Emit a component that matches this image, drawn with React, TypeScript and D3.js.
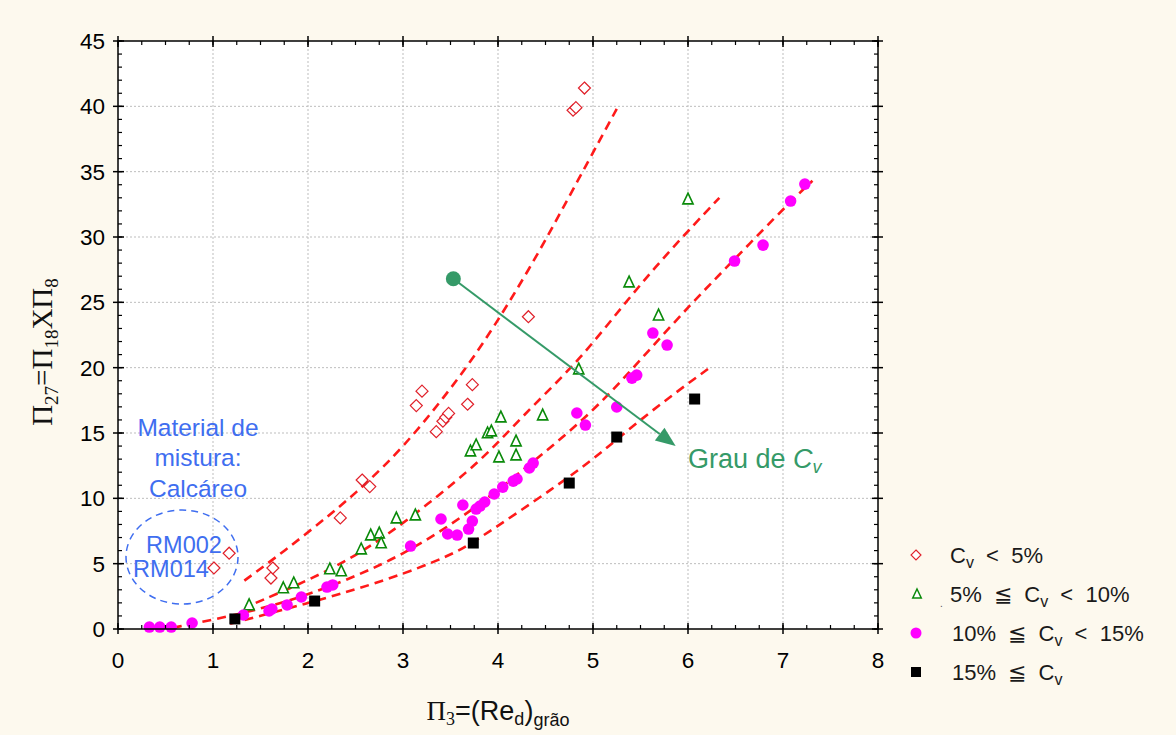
import React from 'react';
import * as d3 from 'd3';

const W = 1176;
const H = 735;

const xTicks = [0, 1, 2, 3, 4, 5, 6, 7, 8];
const yTicks = [0, 5, 10, 15, 20, 25, 30, 35, 40, 45];

// Cv < 5%
const cvLt5: [number, number][] = [
  [1.01, 4.67], [1.17, 5.8], [1.61, 3.9], [1.63, 4.67], [2.34, 8.5], [2.57, 11.4], [2.65, 10.9],
  [3.14, 17.1], [3.2, 18.2], [3.35, 15.1], [3.42, 15.9], [3.45, 16.2], [3.48, 16.5], [3.68, 17.2],
  [3.73, 18.7], [4.32, 23.9], [4.79, 39.7], [4.82, 39.9], [4.91, 41.4],
];
// 5% <= Cv < 10%
const cv5to10: [number, number][] = [
  [1.38, 1.84], [1.74, 3.14], [1.85, 3.52], [2.23, 4.59], [2.35, 4.44], [2.56, 6.12], [2.66, 7.19],
  [2.75, 7.34], [2.77, 6.58], [2.93, 8.49], [3.13, 8.72], [3.71, 13.62], [3.77, 14.08], [3.89, 15.0],
  [3.93, 15.15], [4.03, 16.22], [4.01, 13.16], [4.19, 14.38], [4.19, 13.31], [4.47, 16.37],
  [4.85, 19.89], [5.38, 26.55], [5.69, 24.02], [6.0, 32.9],
];
// 10% <= Cv < 15%
const cv10to15: [number, number][] = [
  [0.33, 0.15], [0.44, 0.15], [0.56, 0.15], [0.78, 0.46], [1.32, 1.07], [1.59, 1.38], [1.62, 1.53],
  [1.78, 1.84], [1.93, 2.45], [2.2, 3.21], [2.26, 3.37], [3.08, 6.35], [3.4, 8.42], [3.47, 7.27],
  [3.57, 7.19], [3.63, 9.49], [3.69, 7.65], [3.73, 8.26], [3.77, 9.18], [3.81, 9.41], [3.86, 9.72],
  [3.96, 10.33], [4.05, 10.86], [4.16, 11.32], [4.2, 11.48], [4.33, 12.32], [4.37, 12.7],
  [4.83, 16.53], [4.92, 15.61], [5.25, 16.99], [5.41, 19.2], [5.46, 19.43], [5.63, 22.65],
  [5.78, 21.73], [6.49, 28.16], [6.79, 29.38], [7.08, 32.75], [7.23, 34.05],
];
// 15% <= Cv
const cvGe15: [number, number][] = [
  [1.23, 0.77], [2.07, 2.14], [3.74, 6.58], [4.75, 11.17], [5.25, 14.69], [6.07, 17.6],
];

// fitted trend curves
const fitLt5: [number, number][] = [
  [1.33, 3.7], [1.74, 5.9], [2.26, 8.9], [2.61, 11.1], [3.0, 13.9], [3.42, 17.6], [3.83, 21.6],
  [4.38, 28.1], [4.86, 34.6], [5.25, 39.8],
];
const fit5to10: [number, number][] = [
  [1.45, 2.0], [2.0, 3.7], [2.56, 5.8], [3.1, 8.6], [3.71, 12.2], [4.02, 14.4], [4.34, 16.9],
  [4.85, 20.5], [5.34, 25.0], [5.81, 29.0], [6.33, 33.0],
];
const fit10to15: [number, number][] = [
  [0.58, 0.1], [1.0, 0.7], [1.6, 1.7], [2.2, 3.1], [3.0, 5.6], [3.7, 8.9], [4.34, 12.6],
  [5.0, 16.6], [5.5, 20.6], [6.02, 24.8], [6.49, 28.3], [7.09, 32.8], [7.31, 34.3],
];
const fitGe15: [number, number][] = [
  [1.18, 0.4], [2.07, 2.1], [2.86, 3.8], [3.49, 5.6], [3.74, 6.6], [4.65, 11.1], [5.0, 13.0],
  [5.25, 14.5], [5.6, 16.6], [6.02, 18.9], [6.23, 20.0],
];

const arrowFrom: [number, number] = [3.53, 26.8];
const arrowTo: [number, number] = [5.87, 14.0];

const legendItems = [
  { pre: '', post: '  <  5%' },
  { pre: '5%  \u2266  ', post: '  <  10%' },
  { pre: '10%  \u2266  ', post: '  <  15%' },
  { pre: '15%  \u2266  ', post: '' },
];

const SANS = '"Liberation Sans", Arial, sans-serif';
const SERIF = '"Liberation Serif", "Times New Roman", serif';
const GREEN = '#359a68';
const BLUE = '#3f6ef0';

export default function App() {
  const x = d3.scaleLinear().domain([0, 8]).range([118, 878]);
  const y = d3.scaleLinear().domain([0, 45]).range([629, 41]);
  const [x0, x1] = x.range();
  const [y0, y1] = y.range();
  const line = d3
    .line<[number, number]>()
    .x((d) => x(d[0]))
    .y((d) => y(d[1]))
    .curve(d3.curveBasis);

  const xMinor = d3.range(0, 8.0001, 0.25);
  const yMinor = d3.range(0, 45.0001, 1);

  const diamond = (s: number) => `M0,${-s}L${s},0L0,${s}L${-s},0Z`;
  const tri = (s: number) => `M0,${-s}L${s * 0.85},${s * 0.8}L${-s * 0.85},${s * 0.8}Z`;

  // arrow geometry
  const ax0 = x(arrowFrom[0]);
  const ay0 = y(arrowFrom[1]);
  const ax1 = x(arrowTo[0]);
  const ay1 = y(arrowTo[1]);
  const ang = Math.atan2(ay1 - ay0, ax1 - ax0);
  const headL = 20;
  const headW = 8;
  const bx = ax1 - headL * Math.cos(ang);
  const by = ay1 - headL * Math.sin(ang);
  const px = -Math.sin(ang);
  const py = Math.cos(ang);

  const curves = [fitLt5, fit5to10, fit10to15, fitGe15];

  return (
    <svg width={W} height={H} style={{ position: 'absolute', left: 0, top: 0 }} xmlns="http://www.w3.org/2000/svg">
      <rect x={0} y={0} width={W} height={H} fill="#fdf9ee" />
      <rect x={x0} y={y1} width={x1 - x0} height={y0 - y1} fill="#ffffff" />

      {/* grid */}
      {xTicks.slice(1, -1).map((t) => (
        <line key={'gx' + t} x1={x(t)} x2={x(t)} y1={y1} y2={y0} stroke="#bdbdbd" strokeWidth={1} strokeDasharray="2,2" />
      ))}
      {yTicks.slice(1, -1).map((t) => (
        <line key={'gy' + t} x1={x0} x2={x1} y1={y(t)} y2={y(t)} stroke="#bdbdbd" strokeWidth={1} strokeDasharray="2,2" />
      ))}

      {/* fit curves */}
      {curves.map((c, i) => (
        <path key={'c' + i} d={line(c) || ''} fill="none" stroke="#ff1a1a" strokeWidth={2.6} strokeDasharray="9,6" />
      ))}

      {/* points */}
      {cvLt5.map((d, i) => (
        <path key={'a' + i} d={diamond(6)} transform={`translate(${x(d[0])},${y(d[1])})`} fill="#ffffff" stroke="#e0202a" strokeWidth={1.2} />
      ))}
      {cv5to10.map((d, i) => (
        <path key={'b' + i} d={tri(6)} transform={`translate(${x(d[0])},${y(d[1])})`} fill="#ffffff" stroke="#0a8a0a" strokeWidth={1.6} />
      ))}
      {cv10to15.map((d, i) => (
        <circle key={'m' + i} cx={x(d[0])} cy={y(d[1])} r={5.8} fill="#ff00ff" />
      ))}
      {cvGe15.map((d, i) => (
        <rect key={'s' + i} x={x(d[0]) - 5.5} y={y(d[1]) - 5.5} width={11} height={11} fill="#000000" />
      ))}

      {/* frame */}
      <rect x={x0} y={y1} width={x1 - x0} height={y0 - y1} fill="none" stroke="#000" strokeWidth={1.5} />

      {/* ticks */}
      {xMinor.map((t) => (
        <g key={'xm' + t}>
          <line x1={x(t)} x2={x(t)} y1={y0} y2={y0 - 4} stroke="#000" strokeWidth={1.2} />
          <line x1={x(t)} x2={x(t)} y1={y1} y2={y1 + 4} stroke="#000" strokeWidth={1.2} />
        </g>
      ))}
      {xTicks.map((t) => (
        <g key={'xM' + t}>
          <line x1={x(t)} x2={x(t)} y1={y0 + 5} y2={y0 - 6} stroke="#000" strokeWidth={1.5} />
          <line x1={x(t)} x2={x(t)} y1={y1 - 5} y2={y1 + 6} stroke="#000" strokeWidth={1.5} />
        </g>
      ))}
      {yMinor.map((t) => (
        <g key={'ym' + t}>
          <line x1={x0} x2={x0 + 4} y1={y(t)} y2={y(t)} stroke="#000" strokeWidth={1.2} />
          <line x1={x1} x2={x1 - 4} y1={y(t)} y2={y(t)} stroke="#000" strokeWidth={1.2} />
        </g>
      ))}
      {yTicks.map((t) => (
        <g key={'yM' + t}>
          <line x1={x0 - 5} x2={x0 + 6} y1={y(t)} y2={y(t)} stroke="#000" strokeWidth={1.5} />
          <line x1={x1 + 5} x2={x1 - 6} y1={y(t)} y2={y(t)} stroke="#000" strokeWidth={1.5} />
        </g>
      ))}

      {/* tick labels */}
      {xTicks.map((t) => (
        <text key={'xl' + t} x={x(t)} y={y0 + 39} textAnchor="middle" fontFamily={SANS} fontSize={22.5} fill="#000">
          {t}
        </text>
      ))}
      {yTicks.map((t) => (
        <text key={'yl' + t} x={x0 - 13} y={y(t) + 8} textAnchor="end" fontFamily={SANS} fontSize={22.5} fill="#000">
          {t}
        </text>
      ))}

      {/* axis titles */}
      <text x={498} y={720} textAnchor="middle" fontSize={27} fill="#111">
        <tspan fontFamily={SERIF}>{'\u03A0'}</tspan>
        <tspan fontFamily={SERIF} fontSize={18} dy={5}>3</tspan>
        <tspan fontFamily={SANS} dy={-5}>=(Re</tspan>
        <tspan fontFamily={SANS} fontSize={18} dy={5}>d</tspan>
        <tspan fontFamily={SANS} dy={-5}>)</tspan>
        <tspan fontFamily={SANS} fontSize={18} dy={6}>grão</tspan>
      </text>
      <text transform="translate(52,352) rotate(-90)" textAnchor="middle" fontFamily={SERIF} fontSize={29} fill="#111">
        <tspan>{'\u03A0'}</tspan>
        <tspan fontSize={19} dy={6}>27</tspan>
        <tspan dy={-6}>={'\u03A0'}</tspan>
        <tspan fontSize={19} dy={6}>18</tspan>
        <tspan dy={-6}>X{'\u03A0'}</tspan>
        <tspan fontSize={19} dy={6}>8</tspan>
      </text>

      {/* annotation: material */}
      <g fontFamily={SANS} fontSize={24.5} fill={BLUE} textAnchor="middle">
        <text x={198} y={436}>Material de</text>
        <text x={198} y={466}>mistura:</text>
        <text x={198} y={497}>Calcáreo</text>
      </g>
      <ellipse cx={182} cy={557} rx={56} ry={47} fill="none" stroke={BLUE} strokeWidth={1.5} strokeDasharray="7,5" />
      <g fontFamily={SANS} fontSize={23.5} fill={BLUE} textAnchor="middle">
        <text x={184} y={553}>RM002</text>
        <text x={171} y={577}>RM014</text>
      </g>

      {/* arrow annotation */}
      <line x1={ax0} y1={ay0} x2={bx} y2={by} stroke={GREEN} strokeWidth={2} />
      <path
        d={`M${ax1},${ay1}L${bx + px * headW},${by + py * headW}L${bx - px * headW},${by - py * headW}Z`}
        fill={GREEN}
      />
      <circle cx={ax0} cy={ay0} r={7.5} fill={GREEN} />
      <text x={688} y={468} fontFamily={SANS} fontSize={27} fill={GREEN}>
        Grau de <tspan fontStyle="italic">C</tspan>
        <tspan fontStyle="italic" fontSize={18} dy={5}>v</tspan>
      </text>

      {/* legend */}
      {legendItems.map((it, i) => {
        const cy = 555 + i * 39;
        return (
          <g key={'lg' + i}>
            {i === 0 && <path d={diamond(5)} transform={`translate(916,${cy})`} fill="#fff" stroke="#e0202a" strokeWidth={1.1} />}
            {i === 1 && <path d={tri(5)} transform={`translate(917,${cy})`} fill="#fff" stroke="#0a8a0a" strokeWidth={1.5} />}
            {i === 2 && <circle cx={916} cy={cy} r={5.5} fill="#ff00ff" />}
            {i === 3 && <rect x={911} y={cy - 5} width={10} height={10} fill="#000" />}
            <text x={i <= 1 ? 950 : 952} y={cy + 8} fontFamily={SANS} fontSize={22} fill="#1a1a1a" style={{ whiteSpace: 'pre' }}>
              {it.pre}C
              <tspan fontSize={16} dy={5}>v</tspan>
              <tspan dy={-5}>{it.post}</tspan>
            </text>
          </g>
        );
      })}
      <text x={940} y={607} fontFamily={SANS} fontSize={10} fill="#555">.</text>
    </svg>
  );
}
